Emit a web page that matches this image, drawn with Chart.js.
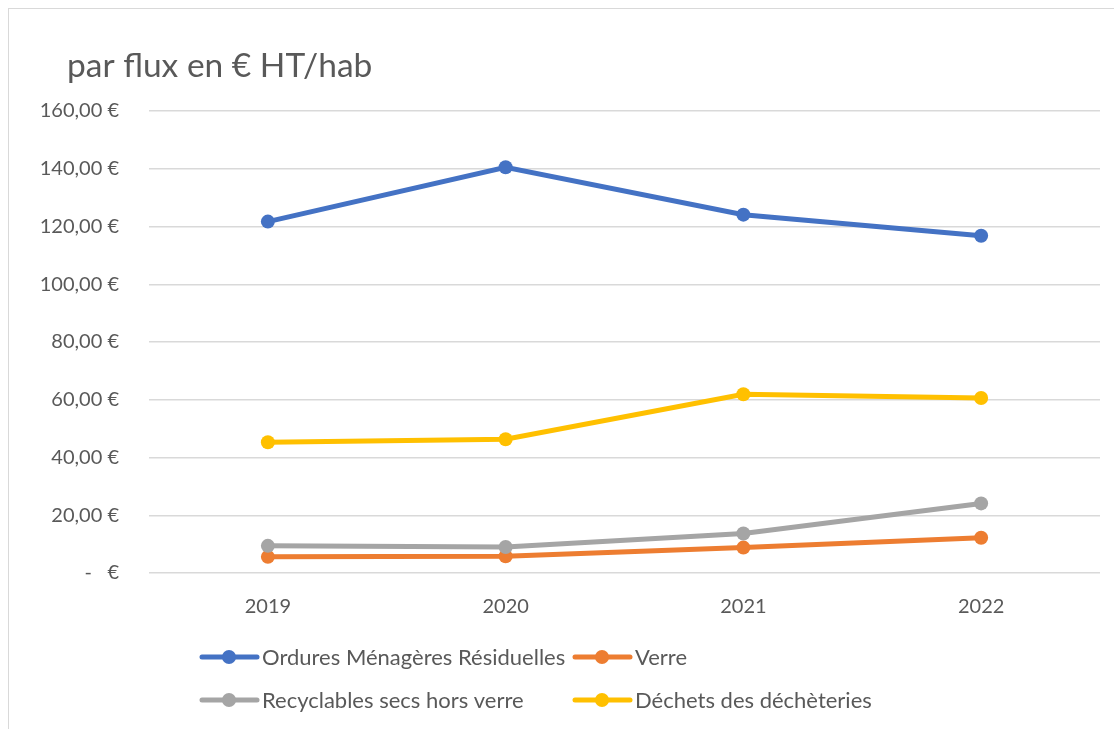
<!DOCTYPE html>
<html>
<head>
<meta charset="utf-8">
<title>Coût par flux</title>
<script src="https://cdn.jsdelivr.net/npm/chart.js@4/dist/chart.umd.min.js"></script>
<style>
  html, body { margin: 0; padding: 0; background: #fff; }
  #frame {
    position: absolute; left: 8px; top: 8px;
    width: 1200px; height: 800px;
    border: 1px solid #d9d9d9;
    pointer-events: none;
  }
  #Linechart { position: absolute; left: 0; top: 0; }
</style>
</head>
<body>
<div id="frame"></div>
<canvas id="Linechart" width="1114" height="729"></canvas>
<script>
// années et coûts par habitant (€ HT)
const years = ["2019", "2020", "2021", "2022"];
const seriesNames = [
  "Ordures Ménagères Résiduelles",
  "Verre",
  "Recyclables secs hors verre",
  "Déchets des déchèteries"
];
const omr = [121.7, 140.5, 124.1, 116.8];
const verre = [5.6, 5.8, 8.8, 12.2];
const recyclables = [9.4, 9.0, 13.7, 24.1];
const decheteries = [45.3, 46.3, 61.9, 60.6];
const yTicks = [0, 20, 40, 60, 80, 100, 120, 140, 160];
const titleText = "par flux en € HT/hab";

const colors = ["#4472C4", "#ED7D31", "#A5A5A5", "#FFC000"];
const textColor = "#595959";
const fontFamily = "Lato, 'Liberation Sans', sans-serif";

const euro = (v) => v === 0
  ? "-\u00a0\u00a0\u00a0€"
  : v.toFixed(2).replace(".", ",") + " €";

// titre en haut à gauche + légende sur deux colonnes
const titleAndLegend = {
  id: "titleAndLegend",
  afterDraw(chart) {
    const ctx = chart.ctx;
    ctx.save();
    ctx.fillStyle = textColor;
    ctx.textBaseline = "alphabetic";
    ctx.textAlign = "left";
    ctx.font = "33.5px " + fontFamily;
    ctx.fillText(titleText, 67, 77);

    const colX = [202, 575];
    const rowY = [657, 700];
    ctx.font = "22px " + fontFamily;
    ctx.textBaseline = "middle";
    chart.data.datasets.forEach((ds, i) => {
      const x = colX[i % 2];
      const y = rowY[Math.floor(i / 2)];
      ctx.strokeStyle = ds.borderColor;
      ctx.lineWidth = 5;
      ctx.lineCap = "round";
      ctx.beginPath();
      ctx.moveTo(x, y);
      ctx.lineTo(x + 55, y);
      ctx.stroke();
      ctx.fillStyle = ds.borderColor;
      ctx.beginPath();
      ctx.arc(x + 27, y, 7, 0, Math.PI * 2);
      ctx.fill();
      ctx.fillStyle = textColor;
      ctx.fillText(ds.label, x + 60, y + 1);
    });
    ctx.restore();
  }
};

const values = [omr, verre, recyclables, decheteries];

new Chart(document.getElementById("Linechart"), {
  type: "line",
  data: {
    labels: years,
    datasets: values.map((data, i) => ({
      label: seriesNames[i],
      data: data,
      borderColor: colors[i],
      backgroundColor: colors[i],
      borderWidth: 5,
      pointRadius: 7,
      pointHoverRadius: 7,
      pointBorderWidth: 0,
      tension: 0,
      order: values.length - i
    }))
  },
  options: {
    responsive: false,
    animation: false,
    layout: { padding: { top: 111, right: 14, bottom: 88, left: 0 } },
    plugins: {
      legend: { display: false },
      title: { display: false },
      tooltip: { enabled: false }
    },
    scales: {
      x: {
        offset: true,
        grid: { display: false, drawTicks: false },
        border: { display: false },
        ticks: {
          color: textColor,
          padding: 22,
          font: { family: fontFamily, size: 20 }
        }
      },
      y: {
        min: 0,
        max: 160,
        afterFit(scale) { scale.width = 149; },
        afterBuildTicks(scale) { scale.ticks = yTicks.map((v) => ({ value: v })); },
        grid: { color: "#d9d9d9", lineWidth: 1.5, drawTicks: false },
        border: { display: false },
        ticks: {
          color: textColor,
          padding: 30,
          font: { family: fontFamily, size: 20 },
          callback: (v) => euro(v)
        }
      }
    }
  },
  plugins: [titleAndLegend]
});
</script>
</body>
</html>
